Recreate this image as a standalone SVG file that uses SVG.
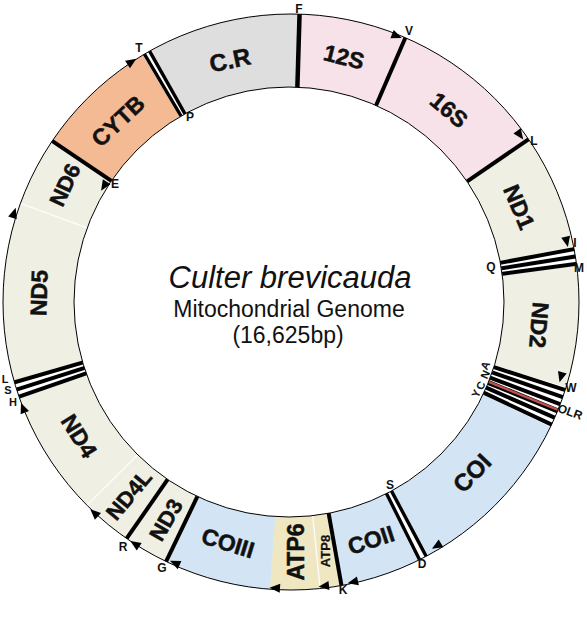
<svg xmlns="http://www.w3.org/2000/svg" xmlns:xlink="http://www.w3.org/1999/xlink" width="587" height="620" viewBox="0 0 587 620">
<defs>
<clipPath id="outerClip"><circle cx="291" cy="302" r="288"/></clipPath>
<line id="tick" x1="291" y1="92" x2="291" y2="8"/>
<path id="arr" d="M5.5,0 L-5,-4.5 L-5,4.5 Z"/>
</defs>
<style>
.seg{fill:none;stroke-width:82;clip-path:url(#outerClip)}
.cr{stroke:#dedede}
.rr{stroke:#f7e2ea}
.nd{stroke:#efefe3}
.cy{stroke:#f4ba94}
.co{stroke:#d3e5f5}
.at{stroke:#efe6c2}
.wh{stroke:#ffffff}
.gl{font-family:"Liberation Sans",Arial,sans-serif;font-weight:bold;font-size:23px;fill:#111;stroke:#111;stroke-width:0.5;text-anchor:middle;dominant-baseline:central}
.tl{font-family:"Liberation Sans",Arial,sans-serif;font-weight:bold;font-size:12px;fill:#111;text-anchor:middle;dominant-baseline:central}
.ts{font-size:11px}
.tk{stroke:#000;stroke-width:4}
.tk2{stroke:#000;stroke-width:3.4}
.fa{stroke:#ffffff;stroke-width:1.4;opacity:0.85}
.arr{fill:#000}
.ct{font-family:"Liberation Sans",Arial,sans-serif;fill:#111;text-anchor:middle}
</style>
<rect width="587" height="620" fill="#ffffff"/>

<g id="gene-CR"><circle class="seg cr" cx="291" cy="302" r="250" stroke-dasharray="134.35 2000" transform="rotate(241 291 302)"/><text class="gl" style="font-size:24px" transform="translate(230,60) rotate(-12)">C.R</text></g>
<g id="gene-12S"><circle class="seg rr" cx="291" cy="302" r="250" stroke-dasharray="95.08 2000" transform="rotate(-88.3 291 302)"/><text class="gl" transform="translate(344,57) rotate(14)">12S</text></g>
<g id="gene-16S"><circle class="seg rr" cx="291" cy="302" r="250" stroke-dasharray="140.9 2000" transform="rotate(-66.6 291 302)"/><text class="gl" transform="translate(449,110) rotate(40)">16S</text></g>
<g id="gene-ND1"><circle class="seg nd" cx="291" cy="302" r="250" stroke-dasharray="102.5 2000" transform="rotate(-34.4 291 302)"/><text class="gl" transform="translate(519,207) rotate(67)">ND1</text></g>
<g id="gene-ND2"><circle class="seg nd" cx="291" cy="302" r="250" stroke-dasharray="106.86 2000" transform="rotate(-7.2 291 302)"/><text class="gl" transform="translate(539,325) rotate(95)">ND2</text></g>
<g id="gene-COI"><circle class="seg co" cx="291" cy="302" r="250" stroke-dasharray="157.04 2000" transform="rotate(25.7 291 302)"/><text class="gl" style="font-size:24px" transform="translate(472,473) rotate(-46)">COI</text></g>
<g id="gene-COII"><circle class="seg co" cx="291" cy="302" r="250" stroke-dasharray="70.21 2000" transform="rotate(63.9 291 302)"/><text class="gl" transform="translate(371,540) rotate(-18)">COII</text></g>
<g id="gene-ATP8"><circle class="seg at" cx="291" cy="302" r="250" stroke-dasharray="19.16 2000" transform="rotate(79.9 291 302)"/><text class="gl" style="font-size:13px;stroke-width:0.2" transform="translate(325,551) rotate(-90)">ATP8</text></g>
<g id="gene-ATP6"><circle class="seg at" cx="291" cy="302" r="250" stroke-dasharray="44.03 2000" transform="rotate(84.2 291 302)"/><text class="gl" transform="translate(296,552) rotate(-90)">ATP6</text></g>
<g id="gene-COIII"><circle class="seg co" cx="291" cy="302" r="250" stroke-dasharray="94.21 2000" transform="rotate(94.2 291 302)"/><text class="gl" transform="translate(228,543) rotate(17)">COIII</text></g>
<g id="gene-ND3"><circle class="seg nd" cx="291" cy="302" r="250" stroke-dasharray="40.11 2000" transform="rotate(115.7 291 302)"/><text class="gl" style="font-size:22px" transform="translate(166,520) rotate(-60)">ND3</text></g>
<g id="gene-ND4L"><circle class="seg nd" cx="291" cy="302" r="250" stroke-dasharray="45.34 2000" transform="rotate(124.8 291 302)"/><text class="gl" style="font-size:22px" transform="translate(129,495) rotate(-50)">ND4L</text></g>
<g id="gene-ND4"><circle class="seg nd" cx="291" cy="302" r="250" stroke-dasharray="110.79 2000" transform="rotate(135.1 291 302)"/><text class="gl" transform="translate(79,436) rotate(58)">ND4</text></g>
<g id="gene-ND5"><circle class="seg nd" cx="291" cy="302" r="250" stroke-dasharray="156.61 2000" transform="rotate(164.2 291 302)"/><text class="gl" transform="translate(39,293) rotate(-88)">ND5</text></g>
<g id="gene-ND6"><circle class="seg nd" cx="291" cy="302" r="250" stroke-dasharray="61.49 2000" transform="rotate(200 291 302)"/><text class="gl" style="font-size:22px" transform="translate(65,185) rotate(-65)">ND6</text></g>
<g id="gene-CYTB"><circle class="seg cy" cx="291" cy="302" r="250" stroke-dasharray="109.48 2000" transform="rotate(214 291 302)"/><text class="gl" transform="translate(118,121) rotate(-43)">CYTB</text></g>

<g id="trna-bg">
<circle class="seg wh" cx="291" cy="302" r="250" stroke-dasharray="16.58 2000" transform="rotate(-11 291 302)"/>
<circle class="seg wh" cx="291" cy="302" r="250" stroke-dasharray="37.09 2000" transform="rotate(17.2 291 302)"/>
<circle class="seg wh" cx="291" cy="302" r="250" stroke-dasharray="10.04 2000" transform="rotate(61.6 291 302)"/>
<circle class="seg wh" cx="291" cy="302" r="250" stroke-dasharray="16.58 2000" transform="rotate(160.4 291 302)"/>
<circle class="seg wh" cx="291" cy="302" r="250" stroke-dasharray="8.73 2000" transform="rotate(239 291 302)"/>
</g>

<g id="connectors" clip-path="url(#outerClip)">
<use xlink:href="#tick" class="fa" transform="rotate(174.2 291 302)"/>
<use xlink:href="#tick" class="fa" transform="rotate(225.1 291 302)"/>
<use xlink:href="#tick" class="fa" transform="rotate(290 291 302)"/>
<use xlink:href="#tick" class="tk" style="stroke-width:4.5" transform="rotate(1.7 291 302)"/>
<use xlink:href="#tick" class="tk" transform="rotate(23.4 291 302)"/>
<use xlink:href="#tick" class="tk" transform="rotate(55.6 291 302)"/>
<use xlink:href="#tick" class="tk" transform="rotate(79.4 291 302)"/>
<use xlink:href="#tick" class="tk" transform="rotate(80.9 291 302)"/>
<use xlink:href="#tick" class="tk" transform="rotate(82.4 291 302)"/>
<use xlink:href="#tick" class="tk" transform="rotate(107.8 291 302)"/>
<use xlink:href="#tick" class="tk" transform="rotate(109.3 291 302)"/>
<use xlink:href="#tick" class="tk" transform="rotate(110.8 291 302)"/>
<use xlink:href="#tick" class="tk" style="stroke-width:5" transform="rotate(112.2 291 302)"/>
<use xlink:href="#tick" style="stroke:#c0504d;stroke-width:2.4" transform="rotate(112.0 291 302)"/>
<use xlink:href="#tick" class="tk" transform="rotate(113.7 291 302)"/>
<use xlink:href="#tick" class="tk" transform="rotate(115.2 291 302)"/>
<use xlink:href="#tick" class="tk2" transform="rotate(152.0 291 302)"/>
<use xlink:href="#tick" class="tk2" transform="rotate(153.5 291 302)"/>
<use xlink:href="#tick" class="tk" transform="rotate(169.9 291 302)"/>
<use xlink:href="#tick" class="tk" transform="rotate(205.7 291 302)"/>
<use xlink:href="#tick" class="tk" transform="rotate(214.8 291 302)"/>
<use xlink:href="#tick" class="tk" transform="rotate(250.8 291 302)"/>
<use xlink:href="#tick" class="tk" transform="rotate(252.3 291 302)"/>
<use xlink:href="#tick" class="tk" transform="rotate(253.8 291 302)"/>
<use xlink:href="#tick" class="tk" transform="rotate(304 291 302)"/>
<use xlink:href="#tick" class="tk2" transform="rotate(329.4 291 302)"/>
<use xlink:href="#tick" class="tk2" transform="rotate(330.6 291 302)"/>
</g>

<circle id="outline" cx="291" cy="302" r="288" fill="none" stroke="#000" stroke-width="1"/>
<circle id="inner" cx="289" cy="302" r="215" fill="#ffffff" stroke="#000" stroke-width="1"/>

<g id="arrows" class="arr">
<use xlink:href="#arr" transform="translate(131.7,61.7) rotate(-33.5)"/>
<use xlink:href="#arr" transform="translate(396.7,36) rotate(21.7)"/>
<use xlink:href="#arr" transform="translate(520,135) rotate(53.9)"/>
<use xlink:href="#arr" transform="translate(566.7,241.7) rotate(77.7)"/>
<use xlink:href="#arr" transform="translate(561,377) rotate(105.5)"/>
<use xlink:href="#arr" transform="translate(436.7,546) rotate(149.2)"/>
<use xlink:href="#arr" transform="translate(353,582) rotate(167.5)"/>
<use xlink:href="#arr" transform="translate(324,586) rotate(173.4)"/>
<use xlink:href="#arr" transform="translate(275,588) rotate(183.2)"/>
<use xlink:href="#arr" transform="translate(175,563) rotate(204)"/>
<use xlink:href="#arr" transform="translate(135,544) rotate(212.8)"/>
<use xlink:href="#arr" transform="translate(94.3,513) rotate(223)"/>
<use xlink:href="#arr" transform="translate(23,408) rotate(248.4)"/>
<use xlink:href="#arr" transform="translate(14,213) rotate(287.8)"/>
<use xlink:href="#arr" transform="translate(104,186) rotate(122.1)"/>
</g>

<g id="trna-labels">
<text class="tl" x="299" y="9">F</text>
<text class="tl" x="409" y="31">V</text>
<text class="tl" x="534" y="141">L</text>
<text class="tl" x="139" y="48">T</text>
<text class="tl" x="190" y="117">P</text>
<text class="tl" x="115" y="184">E</text>
<text class="tl" x="575" y="243">I</text>
<text class="tl" x="491" y="267">Q</text>
<text class="tl" x="579" y="268">M</text>
<text class="tl" x="571" y="388">W</text>
<text class="tl" transform="translate(570,412) rotate(20)">OLR</text>
<text class="tl ts" transform="translate(485,365.5) rotate(-65)">A</text>
<text class="tl ts" transform="translate(485,374.5) rotate(-65)">N</text>
<text class="tl ts" transform="translate(480.5,385.5) rotate(-65)">C</text>
<text class="tl ts" transform="translate(476,393.5) rotate(-65)">Y</text>
<text class="tl" x="390" y="485">S</text>
<text class="tl" x="422" y="564">D</text>
<text class="tl" x="343" y="590">K</text>
<text class="tl" x="162" y="568">G</text>
<text class="tl" x="123" y="547">R</text>
<text class="tl ts" x="5" y="378.5">L</text>
<text class="tl ts" x="8" y="390">S</text>
<text class="tl ts" x="13" y="401.5">H</text>
</g>

<g id="title">
<text class="ct" x="290" y="288" font-size="31" font-style="italic">Culter brevicauda</text>
<text class="ct" x="289" y="317" font-size="23">Mitochondrial Genome</text>
<text class="ct" x="288" y="343" font-size="23">(16,625bp)</text>
</g>
</svg>
